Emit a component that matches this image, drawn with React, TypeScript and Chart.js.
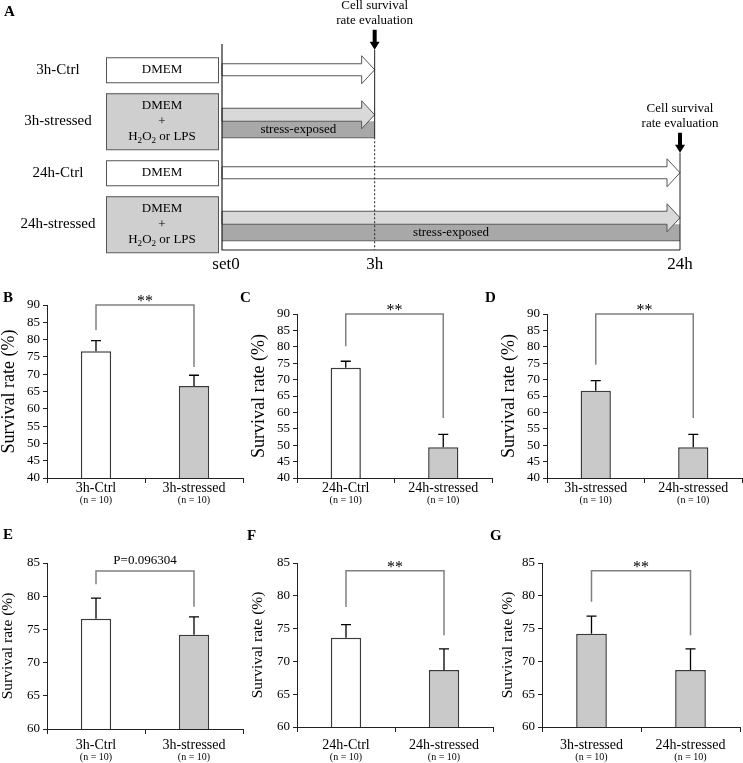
import React, { useEffect, useRef } from 'react';
import { Chart, registerables } from 'chart.js';

Chart.register(...registerables);

const SERIF = '"Liberation Serif", "Times New Roman", Times, serif';
Chart.defaults.font.family = SERIF;
Chart.defaults.color = '#000';

// ---------- Panel A (schematic) ----------
const ROW_LABELS = ['3h-Ctrl', '3h-stressed', '24h-Ctrl', '24h-stressed'];
const ROW_STRESSED = [false, true, false, true];
const ROW_END = ['3h', '3h', '24h', '24h'];
const TIME_LABELS = ['set0', '3h', '24h'];
const TIME_POS = [0, 1, 3];
const EVAL_AT = ['3h', '24h'];
const EVAL_TEXT = ['Cell survival', 'rate evaluation'];
const MEDIUM = 'DMEM';
const STRESSOR = [
  { t: 'H' }, { t: '2', sub: true }, { t: 'O' }, { t: '2', sub: true }, { t: ' or LPS' },
];
const STRESS_TEXT = 'stress-exposed';

// ---------- Panels B-G ----------
const B_CATS = ['3h-Ctrl', '3h-stressed'];
const B_MEAN = [76.6, 66.6];
const B_SD = [3.1, 3.1];
const C_CATS = ['24h-Ctrl', '24h-stressed'];
const C_MEAN = [73.6, 49.4];
const C_SD = [2.0, 3.9];
const D_CATS = ['3h-stressed', '24h-stressed'];
const D_MEAN = [66.6, 49.4];
const D_SD = [3.1, 3.9];
const E_CATS = ['3h-Ctrl', '3h-stressed'];
const E_MEAN = [76.6, 74.2];
const E_SD = [3.1, 2.7];
const F_CATS = ['24h-Ctrl', '24h-stressed'];
const F_MEAN = [73.6, 68.7];
const F_SD = [2.0, 3.2];
const G_CATS = ['3h-stressed', '24h-stressed'];
const G_MEAN = [74.2, 68.7];
const G_SD = [2.7, 3.2];

const N_LABEL = '(n = 10)';
const Y_TITLE = 'Survival rate (%)';
const Y_RANGE_TOP = [40, 90];
const Y_RANGE_BOTTOM = [60, 85];
const Y_STEP = 5;
const SIG = ['**', '**', '**', 'P=0.096304', '**', '**'];
const BRACKET_TOP = [90, 90, 90, 83.8, 83.8, 83.8];
const BRACKET_LEGS = [
  [82.8, 72.1],
  [80.2, 58.3],
  [74.5, 58.3],
  [81.8, 78.4],
  [78.3, 74.0],
  [79.1, 74.0],
];

// layout (pixel geometry only)
const LAYOUT = [
  { letter: 'B', lx: 3, ly: 290, left: 0, axisX: 47, top: 305, right: 243, axisY: 478, bottom: 512, title: 18, gap: 10 },
  { letter: 'C', lx: 240, ly: 290, left: 250, axisX: 297, top: 314, right: 492, axisY: 478, bottom: 512, title: 18, gap: 10 },
  { letter: 'D', lx: 485, ly: 290, left: 500, axisX: 547, top: 314, right: 742, axisY: 478, bottom: 512, title: 18, gap: 10 },
  { letter: 'E', lx: 3, ly: 527, left: 0, axisX: 47, top: 563, right: 243, axisY: 729, bottom: 763, title: 15.5, gap: 16 },
  { letter: 'F', lx: 247, ly: 528, left: 250, axisX: 297, top: 563, right: 493, axisY: 727, bottom: 763, title: 15.5, gap: 18 },
  { letter: 'G', lx: 490, ly: 528, left: 500, axisX: 542, top: 563, right: 740, axisY: 727, bottom: 763, title: 15.5, gap: 18 },
];

const PANEL_DATA = [
  { cats: B_CATS, mean: B_MEAN, sd: B_SD, range: Y_RANGE_TOP },
  { cats: C_CATS, mean: C_MEAN, sd: C_SD, range: Y_RANGE_TOP },
  { cats: D_CATS, mean: D_MEAN, sd: D_SD, range: Y_RANGE_TOP },
  { cats: E_CATS, mean: E_MEAN, sd: E_SD, range: Y_RANGE_BOTTOM },
  { cats: F_CATS, mean: F_MEAN, sd: F_SD, range: Y_RANGE_BOTTOM },
  { cats: G_CATS, mean: G_MEAN, sd: G_SD, range: Y_RANGE_BOTTOM },
];

const WHITE = '#ffffff';
const GREY_BAR = '#c9c9c9';
const BOX_GREY = '#cfcfcf';
const LIGHT = '#d9d9d9';
const DARK = '#a8a8a8';
const EDGE = '#555555';

function txt(ctx: CanvasRenderingContext2D, s: string, x: number, y: number, size: number, align: CanvasTextAlign = 'center', baseline: CanvasTextBaseline = 'middle') {
  ctx.font = `${size}px ${SERIF}`;
  ctx.textAlign = align;
  ctx.textBaseline = baseline;
  ctx.fillStyle = '#000';
  ctx.fillText(s, x, y);
}

function subText(ctx: CanvasRenderingContext2D, parts: { t: string; sub?: boolean }[], cx: number, cy: number, size: number) {
  const subSize = size * 0.7;
  let total = 0;
  const widths = parts.map((p) => {
    ctx.font = `${p.sub ? subSize : size}px ${SERIF}`;
    const w = ctx.measureText(p.t).width;
    total += w;
    return w;
  });
  let x = cx - total / 2;
  ctx.textAlign = 'left';
  ctx.textBaseline = 'middle';
  ctx.fillStyle = '#000';
  parts.forEach((p, i) => {
    ctx.font = `${p.sub ? subSize : size}px ${SERIF}`;
    ctx.fillText(p.t, x, p.sub ? cy + size * 0.3 : cy);
    x += widths[i];
  });
}

function arrowPath(ctx: CanvasRenderingContext2D, x0: number, x1: number, yTop: number, yBot: number, headHalf: number, headLen: number) {
  const cy = (yTop + yBot) / 2;
  const hx = x1 - headLen;
  ctx.beginPath();
  ctx.moveTo(x0, yTop);
  ctx.lineTo(hx, yTop);
  ctx.lineTo(hx, cy - headHalf);
  ctx.lineTo(x1, cy);
  ctx.lineTo(hx, cy + headHalf);
  ctx.lineTo(hx, yBot);
  ctx.lineTo(x0, yBot);
  ctx.closePath();
}

const schematicPlugin = {
  id: 'schematic',
  afterDraw(chart: any) {
    const { ctx, chartArea: ca } = chart;
    const xs = chart.scales.x;
    const ys = chart.scales.y;
    const tx = (lab: string) => xs.getPixelForValue(TIME_POS[TIME_LABELS.indexOf(lab)]);
    const x0 = tx('set0');
    const rowCy = ROW_LABELS.map((_, i) => ys.getPixelForValue(i));
    ctx.save();
    ctx.lineWidth = 1;

    ROW_LABELS.forEach((lab, i) => {
      const cy = rowCy[i];
      const stressed = ROW_STRESSED[i];
      const boxH = stressed ? 56 : 25;
      const bw = 112;
      const bx = x0 - 116;
      txt(ctx, lab, 58, cy, 15);
      ctx.fillStyle = stressed ? BOX_GREY : WHITE;
      ctx.strokeStyle = EDGE;
      ctx.fillRect(bx, cy - boxH / 2, bw, boxH);
      ctx.strokeRect(bx + 0.5, cy - boxH / 2 + 0.5, bw, boxH);
      if (stressed) {
        txt(ctx, MEDIUM, bx + bw / 2, cy - 16, 13);
        txt(ctx, '+', bx + bw / 2, cy, 13);
        subText(ctx, STRESSOR, bx + bw / 2, cy + 15, 13);
      } else {
        txt(ctx, MEDIUM, bx + bw / 2, cy, 13);
      }
      const xe = tx(ROW_END[i]);
      if (stressed) {
        ctx.fillStyle = DARK;
        ctx.fillRect(x0, cy, xe - x0, 16);
        ctx.strokeStyle = EDGE;
        ctx.beginPath();
        ctx.moveTo(x0, cy + 16.5);
        ctx.lineTo(xe, cy + 16.5);
        ctx.stroke();
        txt(ctx, STRESS_TEXT, (x0 + xe) / 2, cy + 8.5, 13);
        arrowPath(ctx, x0, xe, cy - 13, cy, 14, 13);
        ctx.fillStyle = LIGHT;
        ctx.fill();
        ctx.strokeStyle = EDGE;
        ctx.stroke();
      } else {
        arrowPath(ctx, x0, xe, cy - 6, cy + 6, 14, 13);
        ctx.fillStyle = WHITE;
        ctx.fill();
        ctx.strokeStyle = EDGE;
        ctx.stroke();
      }
    });

    // timeline axes
    ctx.strokeStyle = '#222';
    ctx.lineWidth = 1.2;
    ctx.beginPath();
    ctx.moveTo(x0, ca.top);
    ctx.lineTo(x0, ca.bottom);
    ctx.lineTo(tx('24h'), ca.bottom);
    ctx.stroke();

    EVAL_AT.forEach((t, k) => {
      const ex = tx(t);
      const firstRow = ROW_END.indexOf(t);
      const lastRow = ROW_END.lastIndexOf(t);
      const tip = rowCy[firstRow] - 20;
      const isLast = k === EVAL_AT.length - 1;
      const solidEnd = isLast ? ca.bottom : ROW_STRESSED[lastRow] ? rowCy[lastRow] + 16 : rowCy[lastRow];
      ctx.strokeStyle = '#222';
      ctx.lineWidth = 1;
      ctx.setLineDash([]);
      ctx.beginPath();
      ctx.moveTo(ex, tip);
      ctx.lineTo(ex, solidEnd);
      ctx.stroke();
      if (solidEnd < ca.bottom) {
        ctx.setLineDash([2, 2]);
        ctx.beginPath();
        ctx.moveTo(ex, solidEnd);
        ctx.lineTo(ex, ca.bottom);
        ctx.stroke();
        ctx.setLineDash([]);
      }
      // black arrow
      ctx.fillStyle = '#000';
      ctx.fillRect(ex - 2, tip - 20, 4, 13);
      ctx.beginPath();
      ctx.moveTo(ex - 5, tip - 8);
      ctx.lineTo(ex + 5, tip - 8);
      ctx.lineTo(ex, tip);
      ctx.closePath();
      ctx.fill();
      txt(ctx, EVAL_TEXT[0], ex, tip - 44, 13);
      txt(ctx, EVAL_TEXT[1], ex, tip - 29, 13);
    });

    TIME_LABELS.forEach((lab, i) => {
      const x = xs.getPixelForValue(TIME_POS[i]);
      txt(ctx, lab, x + (i === 0 ? 4 : 0), ca.bottom + 15, 17);
    });
    ctx.restore();
  },
};

function SchematicPanel() {
  const ref = useRef<HTMLCanvasElement>(null);
  useEffect(() => {
    const chart = new Chart(ref.current as HTMLCanvasElement, {
      type: 'bar',
      data: {
        labels: ROW_LABELS,
        datasets: [
          {
            data: ROW_END.map((t) => TIME_POS[TIME_LABELS.indexOf(t)]),
            backgroundColor: 'rgba(0,0,0,0)',
            borderWidth: 0,
          },
        ],
      },
      options: {
        indexAxis: 'y',
        responsive: false,
        animation: false,
        events: [],
        layout: { padding: { left: 222, right: 63, top: 44, bottom: 30 } },
        scales: {
          x: { type: 'linear', min: 0, max: 3, display: false },
          y: { type: 'category', display: false, offset: true },
        },
        plugins: { legend: { display: false }, tooltip: { enabled: false } },
      } as any,
      plugins: [schematicPlugin],
    });
    return () => chart.destroy();
  }, []);
  return <canvas ref={ref} width={743} height={280} style={{ position: 'absolute', left: 0, top: 0 }} />;
}

function BarPanel({ idx }: { idx: number }) {
  const ref = useRef<HTMLCanvasElement>(null);
  const L = LAYOUT[idx];
  const D = PANEL_DATA[idx];
  const canvasTop = L.top - 22;
  const width = Math.min(L.right + 2, 743) - L.left;
  const height = L.bottom - canvasTop;
  useEffect(() => {
    const extras = {
      id: 'extras' + idx,
      afterDatasetsDraw(chart: any) {
        const { ctx } = chart;
        const xs = chart.scales.x;
        const ys = chart.scales.y;
        ctx.save();
        // error bars (upper only)
        ctx.strokeStyle = '#000';
        ctx.lineWidth = 1.3;
        D.mean.forEach((m, i) => {
          const cx = xs.getPixelForValue(i);
          const y0 = ys.getPixelForValue(m);
          const y1 = ys.getPixelForValue(m + D.sd[i]);
          ctx.beginPath();
          ctx.moveTo(cx, y0);
          ctx.lineTo(cx, y1);
          ctx.moveTo(cx - 5, y1);
          ctx.lineTo(cx + 5, y1);
          ctx.stroke();
        });
        // significance bracket
        const xl = xs.getPixelForValue(0);
        const xr = xs.getPixelForValue(1);
        const yt = ys.getPixelForValue(BRACKET_TOP[idx]);
        const yl = ys.getPixelForValue(BRACKET_LEGS[idx][0]);
        const yr = ys.getPixelForValue(BRACKET_LEGS[idx][1]);
        ctx.strokeStyle = '#808080';
        ctx.lineWidth = 1.5;
        ctx.beginPath();
        ctx.moveTo(xl, yl);
        ctx.lineTo(xl, yt);
        ctx.lineTo(xr, yt);
        ctx.lineTo(xr, yr);
        ctx.stroke();
        const s = SIG[idx];
        if (s === '**') txt(ctx, s, (xl + xr) / 2, yt + 1, 16, 'center', 'alphabetic');
        else txt(ctx, s, (xl + xr) / 2, yt - 7, 13, 'center', 'alphabetic');
        // category labels
        const ay = chart.chartArea.bottom;
        D.cats.forEach((c, i) => {
          const cx = xs.getPixelForValue(i);
          txt(ctx, c, cx, ay + L.gap, 14);
          txt(ctx, N_LABEL, cx, ay + L.gap + 12, 10);
        });
        ctx.restore();
      },
    };
    const chart = new Chart(ref.current as HTMLCanvasElement, {
      type: 'bar',
      data: {
        labels: D.cats,
        datasets: [
          {
            data: D.mean,
            backgroundColor: D.cats.map((c) => (c.includes('Ctrl') ? WHITE : GREY_BAR)),
            borderColor: '#3a3a3a',
            borderWidth: 1.5,
            barPercentage: 0.31,
            categoryPercentage: 1,
          },
        ],
      },
      options: {
        responsive: false,
        animation: false,
        events: [],
        layout: { padding: { top: 22, right: width - (L.right - L.left), left: 0, bottom: 0 } },
        scales: {
          x: {
            type: 'category',
            offset: true,
            grid: { display: true, drawOnChartArea: false, drawTicks: true, tickLength: 5, color: '#222', offset: true },
            border: { display: true, color: '#222', width: 1 },
            ticks: { display: false },
            afterFit: (s: any) => {
              s.height = L.bottom - L.axisY;
            },
          },
          y: {
            min: D.range[0],
            max: D.range[1],
            ticks: { stepSize: Y_STEP, autoSkip: false, padding: 3, font: { size: 13 }, color: '#000' },
            grid: { display: true, drawOnChartArea: false, drawTicks: true, tickLength: 4, color: '#222' },
            border: { display: true, color: '#222', width: 1 },
            title: { display: true, text: Y_TITLE, padding: 0, color: '#000', font: { size: L.title, lineHeight: 1 } },
            afterFit: (s: any) => {
              s.width = L.axisX - L.left;
            },
          },
        },
        plugins: { legend: { display: false }, tooltip: { enabled: false } },
      } as any,
      plugins: [extras],
    });
    return () => chart.destroy();
  }, [idx]);
  return (
    <>
      <canvas ref={ref} width={width} height={height} style={{ position: 'absolute', left: L.left, top: canvasTop }} />
      <div style={{ position: 'absolute', left: L.lx, top: L.ly, font: `bold 15px ${SERIF}`, lineHeight: '15px' }}>{L.letter}</div>
    </>
  );
}

export default function App() {
  return (
    <div style={{ position: 'absolute', left: 0, top: 0, width: 743, height: 763, background: '#fff', overflow: 'hidden' }}>
      <SchematicPanel />
      <div style={{ position: 'absolute', left: 4, top: 4, font: `bold 15px ${SERIF}`, lineHeight: '15px' }}>A</div>
      {LAYOUT.map((_, i) => (
        <BarPanel key={i} idx={i} />
      ))}
    </div>
  );
}
